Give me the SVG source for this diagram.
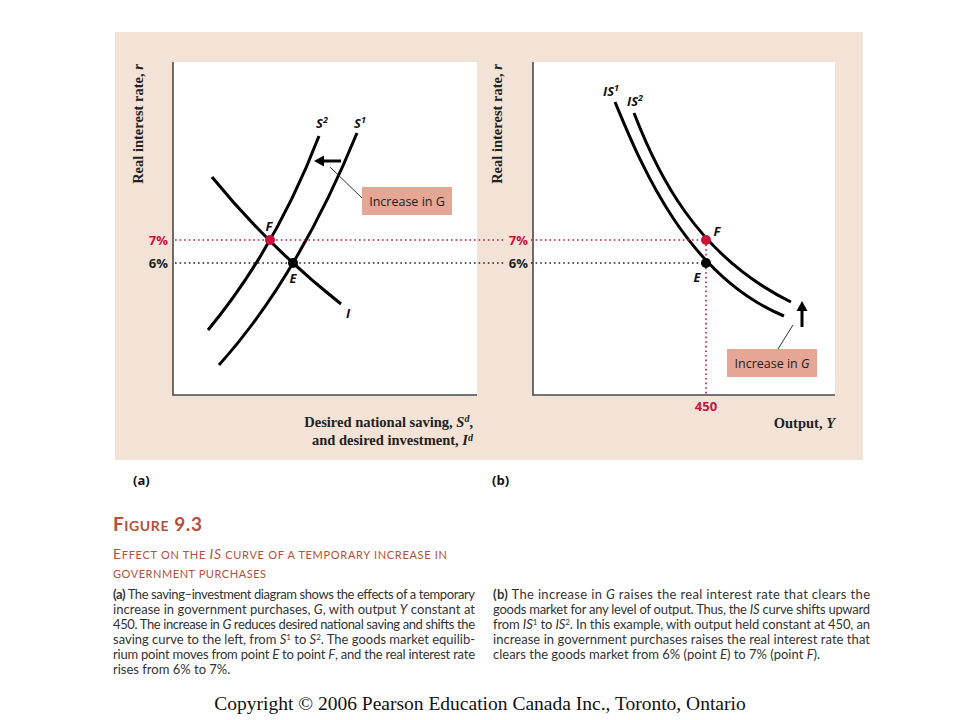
<svg xmlns="http://www.w3.org/2000/svg" width="960" height="720" viewBox="0 0 960 720">
<defs>
<style>
.bg{fill:#f2e3d6}
.plot{fill:#ffffff}
.axis{stroke:#4a4a4a;stroke-width:1.6;fill:none}
.curve{stroke:#000;stroke-width:3;fill:none;stroke-linecap:butt}
.dotr{stroke:#c8143c;stroke-width:1.6;stroke-dasharray:1.6 3;fill:none}
.dotk{stroke:#222;stroke-width:1.6;stroke-dasharray:1.6 3;fill:none}
.lead{stroke:#333;stroke-width:1;fill:none}
.shaft{stroke:#000;stroke-width:3;fill:none}
.box{fill:#e5a696}
.boxt{font-family:"Open Sans","Liberation Sans",sans-serif;font-size:12.5px;fill:#222}
.ax{font-family:"Liberation Serif",serif;font-weight:bold;font-size:14.5px;fill:#222}
.lab{font-family:"Open Sans","Liberation Sans",sans-serif;font-weight:bold;font-style:italic;font-size:13px;fill:#111}
.pct{font-family:"Open Sans","Liberation Sans",sans-serif;font-weight:bold;font-size:13px}
.red{fill:#c8143c}
.blk{fill:#222}
.pan{font-family:"Open Sans","Liberation Sans",sans-serif;font-weight:bold;font-size:13px;fill:#111}
.ttl{font-family:Lato,"Open Sans",sans-serif;fill:#b5503a}
.cap{font-family:Lato,"Liberation Sans",sans-serif;font-size:13px;fill:#333}
.copy{font-family:"Liberation Serif",serif;font-size:19.5px;fill:#111}
</style>
</defs>

<rect class="bg" x="115" y="32" width="748" height="428"/>

<g id="panel-a">
<rect class="plot" x="173" y="62" width="304" height="333"/>
<path class="axis" d="M173,62 V395 H477"/>
<text class="ax" transform="translate(143,124) rotate(-90)" text-anchor="middle">Real interest rate, <tspan font-style="italic">r</tspan></text>
<text class="ax" x="473" y="427" text-anchor="end">Desired national saving, <tspan font-style="italic">S</tspan><tspan font-style="italic" font-size="10" dy="-5">d</tspan><tspan dy="5">,</tspan></text>
<text class="ax" x="473" y="445" text-anchor="end">and desired investment, <tspan font-style="italic">I</tspan><tspan font-style="italic" font-size="10" dy="-4">d</tspan></text>
<text class="pct red" x="168" y="245" text-anchor="end">7%</text>
<text class="pct blk" x="168" y="268" text-anchor="end">6%</text>
<g id="curve-S2"><path class="curve" d="M208,330 Q276.5,247 319,136"/><text class="lab" x="316" y="128">S<tspan font-size="9" dy="-5">2</tspan></text></g>
<g id="curve-S1"><path class="curve" d="M219,365 Q298,277 357,133"/><text class="lab" x="354" y="128">S<tspan font-size="9" dy="-5">1</tspan></text></g>
<g id="curve-I"><path class="curve" d="M212,177 Q269.5,247.5 341,304"/><text class="lab" x="346" y="318">I</text></g>
<g id="point-F-a"><circle cx="270" cy="240" r="5" fill="#d0103a"/><text class="lab" x="269" y="231" text-anchor="middle">F</text></g>
<g id="point-E-a"><circle cx="293" cy="263" r="5" fill="#000"/><text class="lab" x="293" y="283" text-anchor="middle">E</text></g>
<g id="label-a-box"><rect class="box" x="362" y="187" width="90" height="28"/><text class="boxt" x="407" y="206" text-anchor="middle">Increase in G</text></g>
<text class="pan" x="133" y="485">(a)</text>
</g>

<g id="panel-b">
<rect class="plot" x="533" y="62" width="302" height="333"/>
<path class="axis" d="M533,62 V395 H835"/>
<text class="ax" transform="translate(502,124) rotate(-90)" text-anchor="middle">Real interest rate, <tspan font-style="italic">r</tspan></text>
<text class="ax" x="835" y="428" text-anchor="end">Output, <tspan font-style="italic">Y</tspan></text>
<text class="pct red" x="528" y="245" text-anchor="end">7%</text>
<text class="pct blk" x="528" y="268" text-anchor="end">6%</text>
<text class="pct red" x="706" y="411" text-anchor="middle">450</text>
<g id="curve-IS1"><path class="curve" d="M615,102 C640,162 685,275 784,316"/><text class="lab" x="603" y="96">IS<tspan font-size="9" dy="-5">1</tspan></text></g>
<g id="curve-IS2"><path class="curve" d="M634,113 C656,170 695,255 791,302"/><text class="lab" x="627" y="106">IS<tspan font-size="9" dy="-5">2</tspan></text></g>
<g id="label-b-box"><rect class="box" x="727" y="349" width="90" height="28"/><text class="boxt" x="772" y="368" text-anchor="middle">Increase in <tspan font-style="italic">G</tspan></text></g>
<text class="pan" x="492" y="485">(b)</text>
</g>

<g id="connectors">
<path class="dotr" d="M175,240 H504 M531,240 H706"/>
<path class="dotk" d="M175,263 H504 M531,263 H706"/>
<path class="dotr" d="M706,240 V395"/>
<path class="lead" d="M330,167 L362,198"/>
<path class="shaft" d="M341,161 H322"/>
<polygon points="314,161 324,155.5 324,166.5" fill="#000"/>
<path class="lead" d="M793,325 L778,349"/>
<path class="shaft" d="M802,327 V309"/>
<polygon points="802,301 796.5,311 807.5,311" fill="#000"/>
</g>

<g id="point-F-b"><circle cx="706" cy="240" r="5" fill="#d0103a"/><text class="lab" x="717" y="236" text-anchor="middle">F</text></g>
<g id="point-E-b"><circle cx="706" cy="263" r="5" fill="#000"/><text class="lab" x="697" y="282" text-anchor="middle">E</text></g>

<g id="caption">
<text class="ttl" x="113" y="531" font-weight="bold" letter-spacing="1" textLength="90" lengthAdjust="spacing"><tspan font-size="19">F</tspan><tspan font-size="14">IGURE</tspan><tspan font-size="19"> 9.3</tspan></text>
<text class="ttl" x="113" y="559" textLength="334" lengthAdjust="spacing"><tspan font-size="14">E</tspan><tspan font-size="11">FFECT ON THE </tspan><tspan font-size="14" font-style="italic">IS</tspan><tspan font-size="11"> CURVE OF A TEMPORARY INCREASE IN</tspan></text>
<text class="ttl" x="113" y="578" font-size="11" textLength="153" lengthAdjust="spacing">GOVERNMENT PURCHASES</text>

<text class="cap" x="113" y="599" textLength="362" lengthAdjust="spacing"><tspan font-weight="bold">(a)</tspan> The saving–investment diagram shows the effects of a temporary</text>
<text class="cap" x="113" y="614" textLength="362" lengthAdjust="spacing">increase in government purchases, <tspan font-style="italic">G</tspan>, with output <tspan font-style="italic">Y</tspan> constant at</text>
<text class="cap" x="113" y="629" textLength="362" lengthAdjust="spacing">450. The increase in <tspan font-style="italic">G</tspan> reduces desired national saving and shifts the</text>
<text class="cap" x="113" y="644" textLength="362" lengthAdjust="spacing">saving curve to the left, from <tspan font-style="italic">S</tspan><tspan font-size="8" dy="-4">1</tspan><tspan dy="4"> to </tspan><tspan font-style="italic">S</tspan><tspan font-size="8" dy="-4">2</tspan><tspan dy="4">. The goods market equilib-</tspan></text>
<text class="cap" x="113" y="659" textLength="362" lengthAdjust="spacing">rium point moves from point <tspan font-style="italic">E</tspan> to point <tspan font-style="italic">F</tspan>, and the real interest rate</text>
<text class="cap" x="113" y="674">rises from 6% to 7%.</text>

<text class="cap" x="493" y="599" textLength="377" lengthAdjust="spacing"><tspan font-weight="bold">(b)</tspan> The increase in <tspan font-style="italic">G</tspan> raises the real interest rate that clears the</text>
<text class="cap" x="493" y="614" textLength="377" lengthAdjust="spacing">goods market for any level of output. Thus, the <tspan font-style="italic">IS</tspan> curve shifts upward</text>
<text class="cap" x="493" y="629" textLength="377" lengthAdjust="spacing">from <tspan font-style="italic">IS</tspan><tspan font-size="8" dy="-4">1</tspan><tspan dy="4"> to </tspan><tspan font-style="italic">IS</tspan><tspan font-size="8" dy="-4">2</tspan><tspan dy="4">. In this example, with output held constant at 450, an</tspan></text>
<text class="cap" x="493" y="644" textLength="377" lengthAdjust="spacing">increase in government purchases raises the real interest rate that</text>
<text class="cap" x="493" y="659">clears the goods market from 6% (point <tspan font-style="italic">E</tspan>) to 7% (point <tspan font-style="italic">F</tspan>).</text>
</g>

<text class="copy" x="480" y="710" text-anchor="middle">Copyright © 2006 Pearson Education Canada Inc., Toronto, Ontario</text>
</svg>
